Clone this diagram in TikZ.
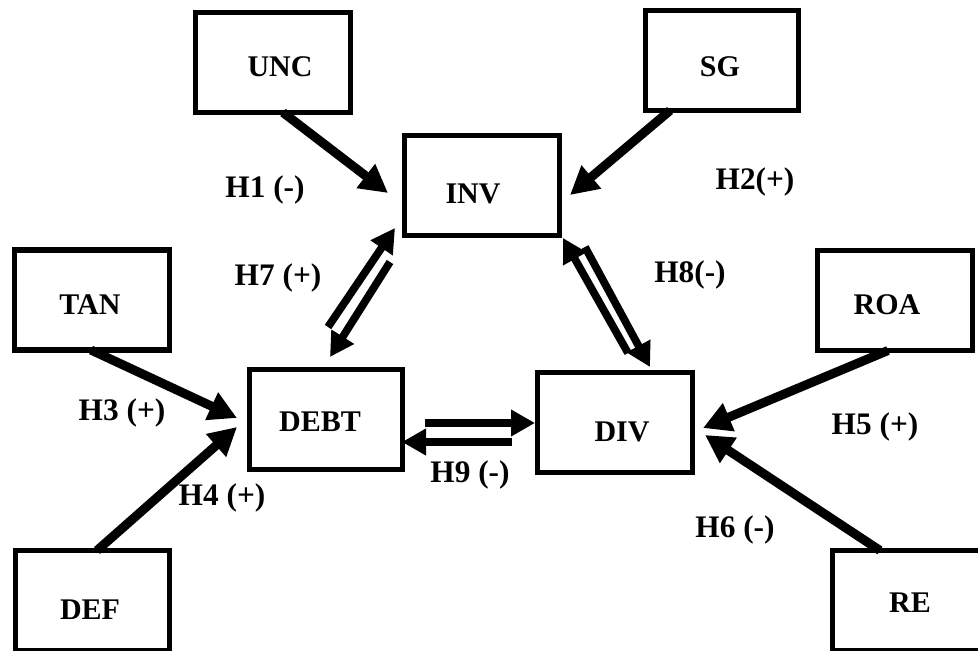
\documentclass[tikz,border=0pt]{standalone}
\usepackage{fontspec}
\setmainfont{Liberation Serif}
\usetikzlibrary{arrows.meta}
\begin{document}
\begin{tikzpicture}[x=0.75pt,y=-0.75pt,
  box/.style={draw,line width=4.3pt,inner sep=0pt,outer sep=0pt,
    minimum width=116.25pt,minimum height=75pt},
  boxtxt/.style={font=\fontsize{22.5}{25}\selectfont\bfseries,inner sep=0pt},
  lab/.style={font=\fontsize{23.5}{26}\selectfont\bfseries,inner sep=0pt},
  arr/.style={line width=6.8pt,-{Triangle[length=21pt,width=21.5pt]}},
  darr/.style={line width=5.8pt,-{Triangle[length=18pt,width=19pt]}}]
\useasboundingbox (0,0) rectangle (978,650);
% boxes
\node[box] (unc) at (273,62.5) {};
\node[box,minimum width=114.75pt] (sg) at (722,60.5) {};
\node[box] (inv) at (482,185.5) {};
\node[box] (tan) at (92,300) {};
\node[box,minimum width=114.75pt] (debt) at (326,419.5) {};
\node[box] (div) at (615,422.5) {};
\node[box] (roa) at (895,300.5) {};
\node[box,minimum width=115.5pt] (def) at (92.5,600.5) {};
\node[box] (re) at (910,600.5) {};
% box texts
\node[boxtxt] (tunc) at (280,67) {UNC};
\node[boxtxt] (tsg) at (720,67) {SG};
\node[boxtxt] (tinv) at (473,194) {INV};
\node[boxtxt] (ttan) at (90,305) {TAN};
\node[boxtxt] (tdebt) at (320,422) {DEBT};
\node[boxtxt] (tdiv) at (622,432) {DIV};
\node[boxtxt] (troa) at (887,305) {ROA};
\node[boxtxt] (tdef) at (90,610) {DEF};
\node[boxtxt] (tre) at (910,603) {RE};
% single arrows
\draw[arr] ([shift={(10,0)}]unc.south) -- ([shift={(-16.5,7.5)}]inv.west);
\draw[arr] ([shift={(-52,0)}]sg.south) -- ([shift={(10.5,9.5)}]inv.east);
\draw[arr] ([shift={(-1,0)}]tan.south) -- ([shift={(-12.5,-1.5)}]debt.west);
\draw[arr] ([shift={(4.5,0)}]def.north) -- ([shift={(-12.5,7.5)}]debt.west);
\draw[arr] ([shift={(-7,0)}]roa.south) -- ([shift={(10.5,5.5)}]div.east);
\draw[arr] ([shift={(-30,0)}]re.north) -- ([shift={(12.5,12.5)}]div.east);
% double arrows
\draw[darr] ([shift={(2,-42.5)}]debt.north) -- ([shift={(-9.5,-7.5)}]inv.south west);
\draw[darr] ([shift={(-14.5,26.5)}]inv.south west) -- ([shift={(4,-12.5)}]debt.north);
\draw[darr] ([shift={(13,-19.5)}]div.north) -- ([shift={(3.5,2.5)}]inv.south east);
\draw[darr] ([shift={(25.5,11.5)}]inv.south east) -- ([shift={(35,-5.5)}]div.north);
\draw[darr] ([shift={(22.5,3.5)}]debt.east) -- ([shift={(-2.5,0.5)}]div.west);
\draw[darr] ([shift={(-25.5,19.5)}]div.west) -- ([shift={(-0.5,22.5)}]debt.east);
% labels
\node[lab] (h1) at (265,190) {H1 (-)};
\node[lab] (h2) at (755,182) {H2(+)};
\node[lab] (h7) at (278,278) {H7 (+)};
\node[lab] (h8) at (690,275) {H8(-)};
\node[lab] (h3) at (122,413) {H3 (+)};
\node[lab] (h4) at (222,498) {H4 (+)};
\node[lab] (h9) at (470,475) {H9 (-)};
\node[lab] (h5) at (875,427) {H5 (+)};
\node[lab] (h6) at (735,530) {H6 (-)};
\end{tikzpicture}
\end{document}
